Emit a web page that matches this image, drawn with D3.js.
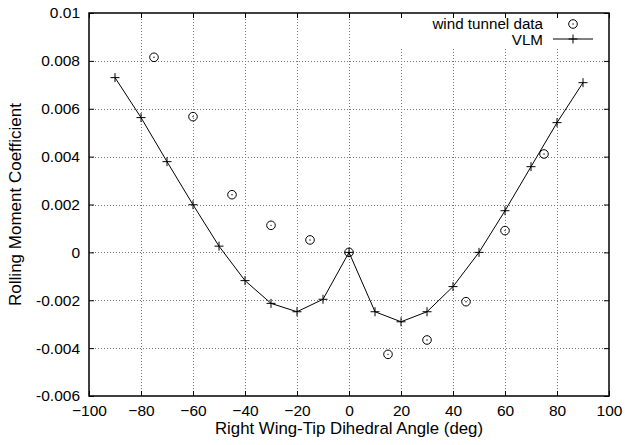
<!DOCTYPE html>
<html>
<head>
<meta charset="utf-8">
<script src="https://cdn.jsdelivr.net/npm/d3@7/dist/d3.min.js"></script>
<style>
  html, body { margin: 0; padding: 0; background: #fff; }
  svg { display: block; font-family: "Liberation Sans", Arial, Helvetica, sans-serif; }
</style>
</head>
<body>
<svg id="chart" width="625" height="445"></svg>
<script>
// Rolling moment coefficient vs. right wing-tip dihedral angle
const vlmAngle = [-90, -80, -70, -60, -50, -40, -30, -20, -10, 0, 10, 20, 30, 40, 50, 60, 70, 80, 90];
const vlmCoeff = [0.0073, 0.00563, 0.00379, 0.00199, 0.00026, -0.00118, -0.00213, -0.00248, -0.00196, 0.0,
                  -0.00248, -0.0029, -0.00248, -0.00143, 0.0, 0.00174, 0.00358, 0.00542, 0.00709];

const tunnelAngle = [-75, -60, -45, -30, -15, 0, 15, 30, 45, 60, 75];
const tunnelCoeff = [0.00815, 0.00567, 0.00241, 0.00113, 0.00052, 0.0, -0.00426, -0.00366, -0.00206, 0.00091, 0.00411];

const xTicks = [-100, -80, -60, -40, -20, 0, 20, 40, 60, 80, 100];
const yTicks = [-0.006, -0.004, -0.002, 0, 0.002, 0.004, 0.006, 0.008, 0.01];

const legendLabels = ["wind tunnel data", "VLM"];
const xTitle = "Right Wing-Tip Dihedral Angle (deg)";
const yTitle = "Rolling Moment Coefficient";

const svg = d3.select("#chart");
const pL = 89, pR = 609, pT = 13, pB = 396;

const x = d3.scaleLinear().domain([-100, 100]).range([pL, pR]);
const y = d3.scaleLinear().domain([-0.006, 0.01]).range([pB, pT]);

const fmtY = v => (v === 0 ? "0" : String(+v.toFixed(3)));

// grid
const grid = svg.append("g").attr("stroke", "#777").attr("stroke-width", 1)
  .attr("stroke-dasharray", "1,2");
xTicks.slice(1, -1).forEach(t => {
  grid.append("line").attr("x1", Math.round(x(t)) + 0.5).attr("x2", Math.round(x(t)) + 0.5)
    .attr("y1", pT).attr("y2", pB);
});
yTicks.slice(1, -1).forEach(t => {
  grid.append("line").attr("y1", Math.round(y(t)) + 0.5).attr("y2", Math.round(y(t)) + 0.5)
    .attr("x1", pL).attr("x2", pR);
});

// key background
svg.append("rect").attr("x", 392).attr("y", pT + 5).attr("width", pR - 392 - 2).attr("height", 30)
  .attr("fill", "#fff");

// axes with inward ticks, mirrored
const tickLen = 5;
const axB = d3.axisBottom(x).tickValues(xTicks).tickSizeInner(-tickLen).tickSizeOuter(0).tickPadding(9);
const axT = d3.axisTop(x).tickValues(xTicks).tickSizeInner(-tickLen).tickSizeOuter(0).tickFormat("");
const axL = d3.axisLeft(y).tickValues(yTicks).tickSizeInner(-tickLen).tickSizeOuter(0).tickPadding(9).tickFormat(fmtY);
const axR = d3.axisRight(y).tickValues(yTicks).tickSizeInner(-tickLen).tickSizeOuter(0).tickFormat("");

function styleAxis(g) {
  g.select(".domain").remove();
  g.selectAll(".tick line").attr("stroke", "#000").attr("stroke-width", 1);
  g.selectAll(".tick text").attr("fill", "#000").attr("font-size", 15.5)
    .attr("font-family", "'Liberation Sans', Arial, sans-serif");
}
svg.append("g").attr("transform", `translate(0,${pB})`).call(axB).call(styleAxis);
svg.append("g").attr("transform", `translate(0,${pT})`).call(axT).call(styleAxis);
svg.append("g").attr("transform", `translate(${pL},0)`).call(axL).call(styleAxis);
svg.append("g").attr("transform", `translate(${pR},0)`).call(axR).call(styleAxis);

// frame
svg.append("rect").attr("x", pL).attr("y", pT).attr("width", pR - pL).attr("height", pB - pT)
  .attr("fill", "none").attr("stroke", "#000").attr("stroke-width", 1.5);

// titles
svg.append("text").attr("x", (pL + pR) / 2).attr("y", 434).attr("text-anchor", "middle")
  .attr("font-size", 16.8).text(xTitle);
svg.append("text").attr("transform", `translate(21,${(pT + pB) / 2}) rotate(-90)`)
  .attr("text-anchor", "middle").attr("font-size", 17).text(yTitle);

// VLM line
const vlm = vlmAngle.map((a, i) => [a, vlmCoeff[i]]);
const line = d3.line().x(d => x(d[0])).y(d => y(d[1]));
svg.append("path").datum(vlm).attr("d", line).attr("fill", "none").attr("stroke", "#000").attr("stroke-width", 1);

const plusSize = 4.5;
function plus(g, cx, cy) {
  g.append("path").attr("d", `M${cx - plusSize},${cy}H${cx + plusSize}M${cx},${cy - plusSize}V${cy + plusSize}`)
    .attr("stroke", "#000").attr("stroke-width", 1).attr("fill", "none");
}
const pg = svg.append("g");
vlm.forEach(d => plus(pg, x(d[0]), y(d[1])));

// wind tunnel circles
function circ(g, cx, cy) {
  g.append("circle").attr("cx", cx).attr("cy", cy).attr("r", 4.3)
    .attr("fill", "none").attr("stroke", "#000").attr("stroke-width", 1);
  g.append("circle").attr("cx", cx).attr("cy", cy).attr("r", 0.7).attr("fill", "#000");
}
const cg = svg.append("g");
tunnelAngle.forEach((a, i) => circ(cg, x(a), y(tunnelCoeff[i])));

// key
const key = svg.append("g");
key.append("text").attr("x", 543).attr("y", 23.5).attr("dy", "0.35em").attr("text-anchor", "end")
  .attr("font-size", 15.2).text(legendLabels[0]);
circ(key, 573, 24);
key.append("text").attr("x", 543).attr("y", 39.5).attr("dy", "0.35em").attr("text-anchor", "end")
  .attr("font-size", 15.2).text(legendLabels[1]);
key.append("line").attr("x1", 553).attr("x2", 593).attr("y1", 39).attr("y2", 39)
  .attr("stroke", "#000").attr("stroke-width", 1);
plus(key, 573, 39);
</script>
</body>
</html>
